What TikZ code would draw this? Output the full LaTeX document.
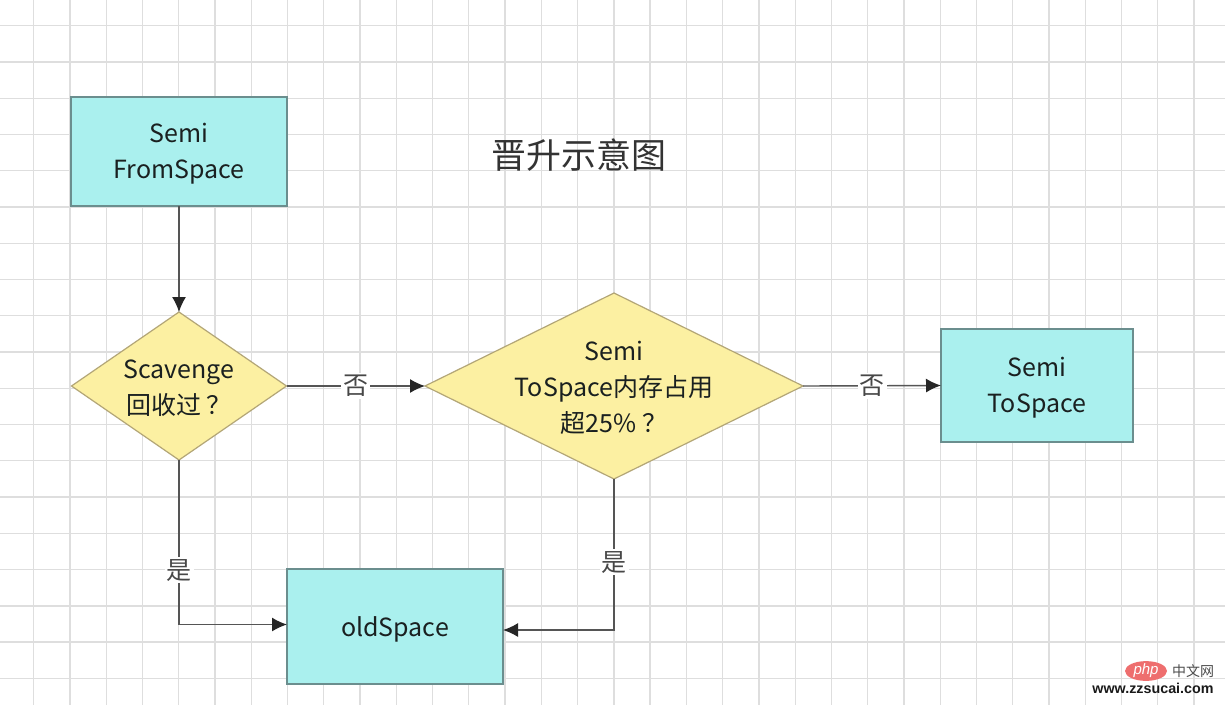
\documentclass[tikz,border=0pt]{standalone}
\usepackage{fontspec}
\setmainfont{Noto Sans CJK SC}
\newfontfamily\wmfont{Liberation Sans}
\usetikzlibrary{shapes.geometric,arrows.meta}
\definecolor{boxfill}{HTML}{AAF0EE}
\definecolor{boxline}{HTML}{6B8E8E}
\definecolor{dfill}{HTML}{FCF0A2}
\definecolor{dline}{HTML}{B3A677}
\definecolor{gridc}{HTML}{DEDEDE}
\definecolor{connc}{HTML}{555555}
\definecolor{tipc}{HTML}{262626}
\definecolor{txt}{HTML}{1A2020}
\definecolor{phpred}{HTML}{EE6E6E}
\begin{document}
\begin{tikzpicture}[x=1pt,y=-1pt,
  gridline/.style={draw=gridc,line width=1.3pt},
  box/.style={rectangle,draw=boxline,fill=boxfill,line width=1.3pt,inner sep=0pt,outer sep=0pt},
  dia/.style={diamond,draw=dline,fill=dfill,line width=1.2pt,inner sep=0pt,outer sep=0pt},
  lbl/.style={font=\fontsize{25}{36}\selectfont,text=txt,align=center,inner sep=0pt},
  conn/.style={draw=connc,line width=1.4pt,-{Latex[length=15pt,width=14pt,color=tipc]}},
  elbl/.style={fill=white,inner sep=2pt,font=\fontsize{25}{28}\selectfont,text=black!72}
]
\useasboundingbox (0,0) rectangle (1225,705);
\fill[white] (0,0) rectangle (1225,705);
% grid
\foreach \i in {0,...,33} {\draw[gridline] ({33.7+36.26*\i},0) -- ({33.7+36.26*\i},705);}
\foreach \j in {0,...,19} {\draw[gridline] (0,{25.7+36.26*\j}) -- (1225,{25.7+36.26*\j});}

% title
\node[font=\fontsize{35}{40}\selectfont,text=black!80] (title) at (579,155) {晋升示意图};

% nodes
\node[box,minimum width=216pt,minimum height=109pt] (fs) at (179,151.5) {};
\node[lbl] (fst) at (179,154) {Semi\\FromSpace};
\node[dia,minimum width=215pt,minimum height=148pt] (sc) at (179,386) {};
\node[lbl] (sct) at (179,388) {Scavenge\\回收过 ？};
\node[dia,minimum width=378pt,minimum height=186pt] (ts) at (614,386) {};
\node[lbl] (tst) at (614,388) {Semi\\ToSpace内存占用\\超25\% ？};
\node[box,minimum width=192pt,minimum height=113pt] (tsp) at (1037,385.5) {};
\node[lbl] (tspt) at (1037,388) {Semi\\ToSpace};
\node[box,minimum width=216pt,minimum height=115pt] (old) at (395,626.5) {};
\node[lbl] (oldt) at (395,629) {oldSpace};

% connectors
\draw[conn] (fs.south) -- (sc.north);
\draw[conn] (sc.east) -- node[elbl] (no1) {否} (ts.west);
\draw[conn] (ts.east) -- node[elbl] (no2) {否} (tsp.west);
\draw[conn] (sc.south) |- node[elbl,pos=0.335] (yes1) {是} ([yshift=2pt]old.west);
\draw[conn] (ts.south) |- node[elbl,pos=0.276] (yes2) {是} ([yshift=-3.5pt]old.east);

% watermark
\node[ellipse,fill=phpred,minimum width=42pt,minimum height=15pt,inner sep=0pt,
  font=\wmfont\itshape\fontsize{15}{16}\selectfont,text=white] (php) at (1146,671) {php};
\node[font=\fontsize{14}{16}\selectfont,text=black!70] (cn) at (1193,671) {中文网};
\node[font=\wmfont\bfseries\fontsize{14.3}{16}\selectfont,text=black!90] (url) at (1153,688) {www.zzsucai.com};
\end{tikzpicture}
\end{document}
